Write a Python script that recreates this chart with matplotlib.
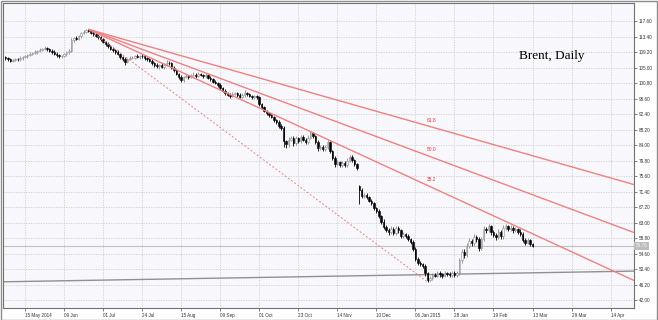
import matplotlib
matplotlib.use("Agg")
import matplotlib.pyplot as plt
import matplotlib.transforms as mtransforms
from matplotlib.patches import Rectangle
import numpy as np

# ---------------- data ----------------
first_index = -8            # bar index of first candle (15 May 2014 = 0)
first_open = 107.8
gap_bar = 137
gap_open = 72.8

closes = [
    107.6, 107.2, 106.9, 107.0, 107.3, 107.2, 107.6, 107.9, 108.0, 108.4,
    108.7, 108.9, 109.3, 109.5, 109.8, 110.1, 110.2, 109.9, 109.6, 109.3,
    108.8, 108.3, 108.0, 108.2, 108.6, 109.1, 109.5, 112.4, 113.0, 112.8,
    113.5, 114.3, 114.7, 115.1, 114.8, 114.4, 114.0, 113.5, 113.2, 112.6,
    112.0, 111.3, 110.7, 110.1, 109.7, 109.3, 108.6, 107.8, 107.2, 106.6,
    107.3, 107.6, 107.7, 108.0, 107.8, 108.2, 108.0, 107.6, 107.2, 106.8,
    106.2, 105.6, 105.3, 105.6, 105.2, 105.8, 106.3, 106.1, 105.0, 104.2,
    103.3, 102.5, 101.6, 102.4, 102.8, 102.5, 102.9, 103.1, 102.8, 103.2,
    103.0, 102.6, 102.9, 102.3, 101.8, 101.2, 100.8, 100.3, 99.4, 98.7,
    98.2, 97.7, 97.3, 97.9, 98.1, 97.5, 97.1, 97.6, 98.2, 97.8,
    97.3, 96.9, 97.2, 97.0, 95.0, 94.2, 93.3, 92.6, 92.1, 91.6,
    90.8, 90.2, 89.2, 88.7, 85.0, 84.2, 85.5, 86.0, 84.6, 85.8,
    85.1, 86.2, 85.4, 84.9, 86.0, 87.2, 86.5, 84.8, 83.2, 83.6,
    83.0, 83.4, 84.9, 82.4, 80.6, 78.9, 79.3, 78.6, 79.2, 78.7,
    79.8, 80.8, 80.0, 78.8, 77.9, 71.8, 70.2, 70.6, 69.9, 69.0,
    68.3, 67.0, 66.2, 64.8, 63.3, 61.9, 61.1, 60.4, 61.4, 60.2,
    61.6, 60.9, 59.3, 59.9, 59.4, 58.6, 57.8, 56.0, 53.2, 52.0,
    51.8, 51.2, 49.3, 47.6, 48.0, 48.9, 48.7, 49.3, 49.0, 48.6,
    49.3, 49.0, 48.9, 49.4, 48.8, 49.5, 52.9, 55.2, 54.2, 56.8,
    58.0, 57.4, 59.2, 58.6, 56.2, 58.5, 61.2, 61.0, 62.0, 60.4,
    59.6, 59.0, 60.5, 59.3, 61.5, 62.0, 61.3, 61.7, 60.9, 61.2,
    60.6, 60.0, 58.4, 57.6, 58.3, 57.2, 56.76,
]

upper_wick = [
    0.4, 0.3, 0.5, 0.3, 0.4, 0.3, 0.5, 0.3, 0.4, 0.3,
    0.4, 0.3, 0.5, 0.3, 0.4, 0.3, 0.5, 0.3, 0.4, 0.3,
    0.4, 0.3, 0.5, 0.3, 0.4, 0.3, 0.5, 0.6, 0.4, 0.5,
    0.4, 0.3, 0.4, 0.2, 0.25, 0.3, 0.4, 0.3, 0.5, 0.3,
    0.4, 0.3, 0.5, 0.3, 0.4, 0.3, 0.5, 0.3, 0.4, 0.6,
    0.4, 0.5, 0.3, 0.4, 0.6, 0.3, 0.5, 0.4, 0.3, 0.5,
    0.4, 0.3, 0.6, 0.4, 0.5, 0.3, 0.7, 0.4, 0.3, 0.5,
    0.4, 0.3, 0.6, 0.4, 0.5, 0.3, 0.4, 0.6, 0.3, 0.5,
    0.4, 0.3, 0.5, 0.3, 0.4, 0.3, 0.5, 0.3, 0.4, 0.3,
    0.4, 0.3, 0.5, 0.6, 0.4, 0.3, 0.5, 0.4, 0.6, 0.3,
    0.4, 0.3, 0.5, 0.3, 0.4, 0.3, 0.5, 0.3, 0.4, 0.3,
    0.4, 0.3, 0.5, 0.4, 0.6, 0.5, 0.7, 0.6, 0.5, 0.8,
    0.4, 0.6, 0.5, 0.4, 0.7, 0.5, 0.4, 0.3, 0.5, 0.4,
    0.4, 0.5, 0.5, 0.3, 0.4, 0.5, 0.6, 0.4, 0.5, 0.4,
    0.6, 0.5, 0.4, 0.3, 0.4, 0.3, 0.6, 0.5, 0.4, 0.3,
    0.5, 0.4, 0.3, 0.5, 0.4, 0.6, 0.5, 0.4, 0.6, 0.5,
    0.6, 0.4, 0.5, 0.6, 0.4, 0.5, 0.3, 0.4, 0.5, 0.6,
    0.5, 0.4, 0.5, 0.4, 0.6, 0.5, 0.4, 0.6, 0.5, 0.4,
    0.5, 0.4, 0.6, 0.5, 0.4, 0.5, 0.6, 0.8, 0.7, 0.6,
    0.8, 0.6, 0.7, 0.5, 0.6, 0.7, 0.8, 0.6, 0.7, 0.5,
    0.6, 0.5, 0.7, 0.6, 0.8, 0.6, 0.5, 0.7, 0.5, 0.6,
    0.5, 0.6, 0.4, 0.5, 0.6, 0.4, 0.3,
]

lower_wick = [
    0.5, 0.4, 0.3, 0.5, 0.3, 0.4, 0.3, 0.5, 0.3, 0.4,
    0.3, 0.4, 0.3, 0.5, 0.3, 0.4, 0.3, 0.4, 0.3, 0.5,
    0.3, 0.4, 0.3, 0.5, 0.3, 0.4, 0.3, 0.4, 0.5, 0.4,
    0.3, 0.4, 0.3, 0.4, 0.3, 0.4, 0.5, 0.3, 0.4, 0.5,
    0.3, 0.4, 0.5, 0.3, 0.4, 0.6, 0.3, 0.5, 0.4, 0.9,
    0.5, 0.3, 0.4, 0.5, 0.3, 0.4, 0.3, 0.5, 0.4, 0.3,
    0.5, 0.4, 0.3, 0.6, 0.4, 0.5, 0.3, 0.4, 0.5, 0.4,
    0.3, 0.5, 0.6, 0.4, 0.3, 0.5, 0.4, 0.3, 0.5, 0.4,
    0.3, 0.5, 0.4, 0.3, 0.5, 0.4, 0.3, 0.5, 0.4, 0.3,
    0.5, 0.4, 0.6, 0.3, 0.4, 0.5, 0.4, 0.3, 0.5, 0.4,
    0.3, 0.5, 0.4, 0.6, 0.5, 0.4, 0.3, 0.5, 0.4, 0.3,
    0.5, 0.4, 0.6, 0.5, 1.5, 0.9, 0.6, 0.5, 0.8, 0.6,
    0.5, 0.6, 0.4, 0.7, 0.5, 0.4, 0.6, 0.5, 0.7, 0.5,
    0.6, 0.5, 0.4, 0.6, 0.5, 0.7, 0.6, 0.5, 0.4, 0.6,
    0.5, 0.4, 0.6, 0.5, 0.6, 3.8, 0.6, 0.5, 0.6, 0.5,
    0.6, 0.5, 0.7, 0.5, 0.6, 0.5, 0.6, 0.7, 0.5, 0.6,
    0.5, 0.6, 0.5, 0.4, 0.5, 0.6, 0.5, 0.7, 0.6, 0.5,
    0.6, 0.5, 0.7, 0.65, 0.5, 0.6, 0.4, 0.5, 0.6, 0.5,
    0.4, 0.5, 0.6, 0.5, 0.4, 0.5, 0.6, 0.7, 0.8, 0.6,
    0.7, 0.8, 0.6, 0.7, 0.9, 0.6, 0.5, 0.7, 0.6, 0.8,
    0.6, 0.7, 0.5, 0.6, 0.7, 0.5, 0.6, 0.5, 0.7, 0.5,
    0.6, 0.5, 0.7, 0.6, 0.5, 0.6, 0.4,
]

date_labels = ["15 May 2014", "09 Jun", "01 Jul", "24 Jul", "15 Aug", "09 Sep",
               "01 Oct", "23 Oct", "14 Nov", "10 Dec", "06 Jan 2015", "28 Jan",
               "19 Feb", "13 Mar", "29 Mar", "14 Apr"]
bars_per_label = 16
price_ticks = [117.60, 113.40, 109.20, 105.00, 100.80, 96.60, 92.40, 88.20,
               84.00, 79.80, 75.60, 71.40, 67.20, 63.00, 58.80, 54.60, 50.40,
               46.20, 42.00]

# Fibonacci fan anchors (bar index, price)
fan_start = (26, 115.35)
fan_end = (165, 46.95)
fan_levels = [38.2, 50.0, 61.8]

# horizontal-ish support trend line (bar index, price)
support_line = [(-9.0, 47.0), (249.6, 49.9)]

current_price = 56.76
title = "Brent, Daily"

# ---------------- build OHLC ----------------
n = len(closes)
idx = np.arange(first_index, first_index + n)
c = np.array(closes)
o = np.empty(n)
o[0] = first_open
o[1:] = c[:-1]
o[idx == gap_bar] = gap_open
hi = np.maximum(o, c) + np.array(upper_wick)
lo = np.minimum(o, c) - np.array(lower_wick)

# ---------------- figure ----------------
W, H = 658, 320
fig = plt.figure(figsize=(W / 100, H / 100), dpi=100)
fig.patch.set_facecolor("white")
ax = fig.add_axes([3 / W, 1 - 308 / H, (634 - 3) / W, (308 - 3) / H])
ax.set_facecolor("#f8f8fc")

xmin, xmax = -9.02, 249.6
ymin, ymax = 39.91, 122.47
ax.set_xlim(xmin, xmax)
ax.set_ylim(ymin, ymax)

# grid
xt = np.arange(len(date_labels)) * bars_per_label
for x in xt:
    ax.axvline(x, color="#cbcbd3", lw=0.6, ls=(0, (1.5, 1.5)), zorder=0)
for y in price_ticks:
    ax.axhline(y, color="#cbcbd3", lw=0.6, ls=(0, (1.5, 1.5)), zorder=0)

# current price line
ax.axhline(current_price, color="#c0c0c0", lw=0.8, zorder=1)

# support line
ax.plot([p[0] for p in support_line], [p[1] for p in support_line],
        color="#909090", lw=1.0, zorder=2)

# candles
up = c >= o
ax.vlines(idx[~up], lo[~up], hi[~up], color="black", lw=0.6, zorder=3)
ax.vlines(idx[up], lo[up], hi[up], color="#8a8a8a", lw=0.6, zorder=3)
bw = 0.62
ax.bar(idx[~up], (o - c)[~up], bottom=c[~up], width=bw, color="black",
       edgecolor="black", lw=0.4, zorder=4)
ax.bar(idx[up], (c - o)[up], bottom=o[up], width=bw, color="white",
       edgecolor="#8a8a8a", lw=0.4, zorder=4)

# fibonacci fan
fan_red = "#f08080"
ax.plot([fan_start[0], fan_end[0]], [fan_start[1], fan_end[1]], color=fan_red,
        lw=0.7, ls=(0, (2, 2)), zorder=5)
rng = fan_start[1] - fan_end[1]
for lev in fan_levels:
    p_end = fan_end[1] + lev / 100.0 * rng
    slope = (p_end - fan_start[1]) / (fan_end[0] - fan_start[0])
    ax.plot([fan_start[0], xmax], [fan_start[1], fan_start[1] + slope * (xmax - fan_start[0])],
            color=fan_red, lw=1.0, zorder=5, solid_capstyle="butt")
    ax.text(fan_end[0] + 1.5, p_end + 0.9, f"{lev:.1f}", color="#e83030",
            fontsize=3.5, ha="center", va="bottom", family="Liberation Sans", zorder=6)

# title text
fig.text(519 / W, 1 - 56 / H, title, fontsize=9.5, family="Liberation Serif",
         ha="left", va="center", color="black")

# axes styling
ax.yaxis.tick_right()
ax.set_yticks(price_ticks)
ax.set_yticklabels([f"{v:.2f}" for v in price_ticks])
ax.set_xticks(xt)
ax.set_xticklabels(date_labels)
ax.tick_params(axis="y", length=2.5, width=0.5, color="#505050", pad=1.2,
               labelsize=3.3, labelcolor="#303030")
ax.tick_params(axis="x", length=2.5, width=0.5, color="#505050", pad=1.0,
               labelsize=3.3, labelcolor="#303030")
for lab in ax.get_xticklabels():
    lab.set_horizontalalignment("left")
    lab.set_family("Liberation Sans")
for lab in ax.get_yticklabels():
    lab.set_family("Liberation Sans")
for s in ax.spines.values():
    s.set_color("#707070")
    s.set_linewidth(0.8)

# current price tag
trans = mtransforms.blended_transform_factory(ax.transAxes, ax.transData)
ax.text(1.003, current_price, f"{current_price:.2f}", transform=trans,
        fontsize=3.3, family="Liberation Sans", color="#f4f4f4", ha="left",
        va="center", bbox=dict(boxstyle="square,pad=0.35", fc="#bdbdbd", ec="none"),
        clip_on=False, zorder=10)

# outer frame
fig.patches.append(Rectangle((0.5 / W, 0.5 / H), 1 - 1.5 / W, 1 - 1.5 / H,
                             transform=fig.transFigure, fill=False,
                             ec="#8c8c8c", lw=1.0))

fig.savefig("out.png", dpi=100)
